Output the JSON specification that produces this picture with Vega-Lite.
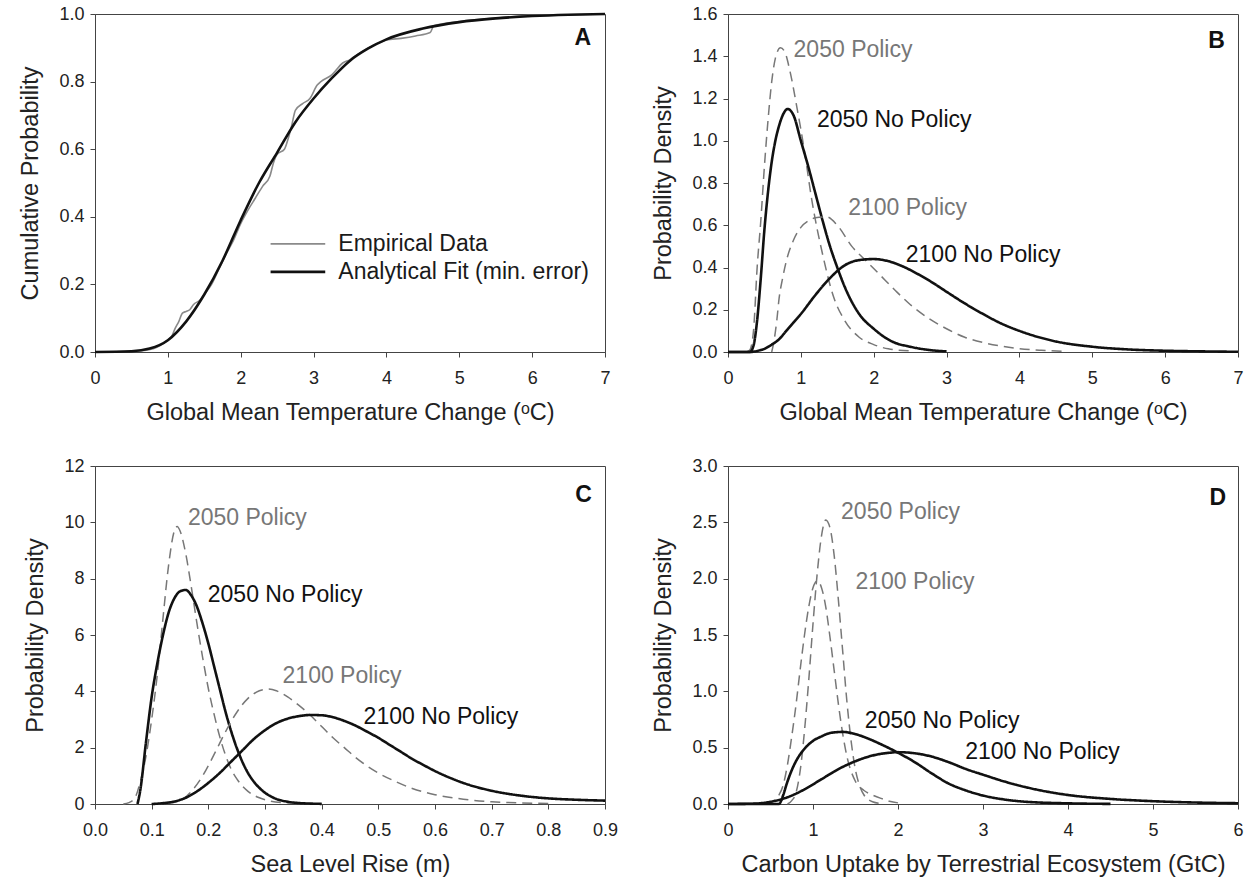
{
  "$schema": "https://vega.github.io/schema/vega-lite/v6.json",
  "background": "white",
  "padding": {"left": 18, "top": 4, "right": 5, "bottom": 5},
  "columns": 2,
  "bounds": "flush",
  "spacing": {"row": 114, "column": 123},
  "resolve": {"scale": {"x": "independent", "y": "independent", "color": "independent", "strokeDash": "independent", "strokeWidth": "independent"}},
  "config": {
    "font": "Liberation Sans",
    "view": {"stroke": "#444", "strokeWidth": 1},
    "axis": {"labelFont": "Liberation Sans", "titleFont": "Liberation Sans", "labelFontSize": 18, "titleFontSize": 23.5, "titleFontWeight": "normal", "labelColor": "#222", "titleColor": "#222", "domainColor": "#444", "tickColor": "#444", "grid": false, "tickSize": 5, "labelFlush": false, "labelOverlap": false},
    "axisX": {"labelPadding": 12, "titlePadding": 13},
    "axisY": {"labelPadding": 6, "titlePadding": 16}
  },
  "datasets": {
    "A": [
      {"series": "Empirical Data", "x": 0, "y": 0}, {"series": "Empirical Data", "x": 0.6, "y": 0.003}, {"series": "Empirical Data", "x": 0.8, "y": 0.01}, {"series": "Empirical Data", "x": 0.9, "y": 0.02}, {"series": "Empirical Data", "x": 1.0, "y": 0.035}, {"series": "Empirical Data", "x": 1.05, "y": 0.045}, {"series": "Empirical Data", "x": 1.1, "y": 0.07}, {"series": "Empirical Data", "x": 1.15, "y": 0.09}, {"series": "Empirical Data", "x": 1.2, "y": 0.115}, {"series": "Empirical Data", "x": 1.25, "y": 0.12}, {"series": "Empirical Data", "x": 1.3, "y": 0.125}, {"series": "Empirical Data", "x": 1.35, "y": 0.14}, {"series": "Empirical Data", "x": 1.45, "y": 0.155}, {"series": "Empirical Data", "x": 1.5, "y": 0.17}, {"series": "Empirical Data", "x": 1.6, "y": 0.2}, {"series": "Empirical Data", "x": 1.7, "y": 0.245}, {"series": "Empirical Data", "x": 1.8, "y": 0.29}, {"series": "Empirical Data", "x": 1.9, "y": 0.33}, {"series": "Empirical Data", "x": 2.0, "y": 0.38}, {"series": "Empirical Data", "x": 2.1, "y": 0.42}, {"series": "Empirical Data", "x": 2.2, "y": 0.455}, {"series": "Empirical Data", "x": 2.3, "y": 0.49}, {"series": "Empirical Data", "x": 2.4, "y": 0.52}, {"series": "Empirical Data", "x": 2.45, "y": 0.56}, {"series": "Empirical Data", "x": 2.5, "y": 0.585}, {"series": "Empirical Data", "x": 2.6, "y": 0.6}, {"series": "Empirical Data", "x": 2.65, "y": 0.63}, {"series": "Empirical Data", "x": 2.7, "y": 0.67}, {"series": "Empirical Data", "x": 2.75, "y": 0.715}, {"series": "Empirical Data", "x": 2.85, "y": 0.735}, {"series": "Empirical Data", "x": 2.95, "y": 0.75}, {"series": "Empirical Data", "x": 3.05, "y": 0.79}, {"series": "Empirical Data", "x": 3.1, "y": 0.8}, {"series": "Empirical Data", "x": 3.25, "y": 0.82}, {"series": "Empirical Data", "x": 3.4, "y": 0.855}, {"series": "Empirical Data", "x": 3.5, "y": 0.865}, {"series": "Empirical Data", "x": 3.6, "y": 0.88}, {"series": "Empirical Data", "x": 3.8, "y": 0.905}, {"series": "Empirical Data", "x": 4.0, "y": 0.923}, {"series": "Empirical Data", "x": 4.2, "y": 0.928}, {"series": "Empirical Data", "x": 4.4, "y": 0.935}, {"series": "Empirical Data", "x": 4.6, "y": 0.945}, {"series": "Empirical Data", "x": 4.65, "y": 0.965}, {"series": "Empirical Data", "x": 5.0, "y": 0.978}, {"series": "Empirical Data", "x": 5.5, "y": 0.988}, {"series": "Empirical Data", "x": 6.0, "y": 0.996}, {"series": "Empirical Data", "x": 6.5, "y": 0.998}, {"series": "Empirical Data", "x": 7.0, "y": 1.0},
      {"series": "Analytical Fit (min. error)", "x": 0, "y": 0}, {"series": "Analytical Fit (min. error)", "x": 0.5, "y": 0.002}, {"series": "Analytical Fit (min. error)", "x": 0.75, "y": 0.01}, {"series": "Analytical Fit (min. error)", "x": 1.0, "y": 0.035}, {"series": "Analytical Fit (min. error)", "x": 1.25, "y": 0.09}, {"series": "Analytical Fit (min. error)", "x": 1.5, "y": 0.17}, {"series": "Analytical Fit (min. error)", "x": 1.75, "y": 0.27}, {"series": "Analytical Fit (min. error)", "x": 2.0, "y": 0.39}, {"series": "Analytical Fit (min. error)", "x": 2.25, "y": 0.5}, {"series": "Analytical Fit (min. error)", "x": 2.5, "y": 0.59}, {"series": "Analytical Fit (min. error)", "x": 2.75, "y": 0.68}, {"series": "Analytical Fit (min. error)", "x": 3.0, "y": 0.75}, {"series": "Analytical Fit (min. error)", "x": 3.25, "y": 0.81}, {"series": "Analytical Fit (min. error)", "x": 3.5, "y": 0.862}, {"series": "Analytical Fit (min. error)", "x": 3.75, "y": 0.898}, {"series": "Analytical Fit (min. error)", "x": 4.0, "y": 0.925}, {"series": "Analytical Fit (min. error)", "x": 4.5, "y": 0.957}, {"series": "Analytical Fit (min. error)", "x": 5.0, "y": 0.976}, {"series": "Analytical Fit (min. error)", "x": 5.5, "y": 0.987}, {"series": "Analytical Fit (min. error)", "x": 6.0, "y": 0.994}, {"series": "Analytical Fit (min. error)", "x": 6.5, "y": 0.998}, {"series": "Analytical Fit (min. error)", "x": 7.0, "y": 1.0}
    ],
    "Aleg": [
      {"series": "Empirical Data", "x1": 2.41, "x2": 3.16, "xt": 3.34, "y": 0.32},
      {"series": "Analytical Fit (min. error)", "x1": 2.41, "x2": 3.16, "xt": 3.34, "y": 0.237}
    ],
    "B": [
      {"series": "2050 Policy", "x": 0.25, "y": 0}, {"series": "2050 Policy", "x": 0.3, "y": 0.01}, {"series": "2050 Policy", "x": 0.35, "y": 0.1}, {"series": "2050 Policy", "x": 0.4, "y": 0.4}, {"series": "2050 Policy", "x": 0.45, "y": 0.62}, {"series": "2050 Policy", "x": 0.5, "y": 0.88}, {"series": "2050 Policy", "x": 0.55, "y": 1.1}, {"series": "2050 Policy", "x": 0.6, "y": 1.28}, {"series": "2050 Policy", "x": 0.65, "y": 1.39}, {"series": "2050 Policy", "x": 0.72, "y": 1.44}, {"series": "2050 Policy", "x": 0.78, "y": 1.42}, {"series": "2050 Policy", "x": 0.85, "y": 1.33}, {"series": "2050 Policy", "x": 0.95, "y": 1.15}, {"series": "2050 Policy", "x": 1.05, "y": 0.95}, {"series": "2050 Policy", "x": 1.15, "y": 0.72}, {"series": "2050 Policy", "x": 1.3, "y": 0.46}, {"series": "2050 Policy", "x": 1.45, "y": 0.26}, {"series": "2050 Policy", "x": 1.6, "y": 0.15}, {"series": "2050 Policy", "x": 1.8, "y": 0.07}, {"series": "2050 Policy", "x": 2.0, "y": 0.035}, {"series": "2050 Policy", "x": 2.2, "y": 0.015}, {"series": "2050 Policy", "x": 2.5, "y": 0.005},
      {"series": "2050 No Policy", "x": 0, "y": 0}, {"series": "2050 No Policy", "x": 0.3, "y": 0}, {"series": "2050 No Policy", "x": 0.35, "y": 0.03}, {"series": "2050 No Policy", "x": 0.4, "y": 0.15}, {"series": "2050 No Policy", "x": 0.45, "y": 0.35}, {"series": "2050 No Policy", "x": 0.5, "y": 0.58}, {"series": "2050 No Policy", "x": 0.55, "y": 0.76}, {"series": "2050 No Policy", "x": 0.6, "y": 0.9}, {"series": "2050 No Policy", "x": 0.65, "y": 1.0}, {"series": "2050 No Policy", "x": 0.7, "y": 1.07}, {"series": "2050 No Policy", "x": 0.75, "y": 1.12}, {"series": "2050 No Policy", "x": 0.82, "y": 1.15}, {"series": "2050 No Policy", "x": 0.9, "y": 1.12}, {"series": "2050 No Policy", "x": 1.0, "y": 1.0}, {"series": "2050 No Policy", "x": 1.1, "y": 0.88}, {"series": "2050 No Policy", "x": 1.2, "y": 0.75}, {"series": "2050 No Policy", "x": 1.3, "y": 0.62}, {"series": "2050 No Policy", "x": 1.4, "y": 0.5}, {"series": "2050 No Policy", "x": 1.5, "y": 0.4}, {"series": "2050 No Policy", "x": 1.6, "y": 0.31}, {"series": "2050 No Policy", "x": 1.8, "y": 0.18}, {"series": "2050 No Policy", "x": 2.0, "y": 0.11}, {"series": "2050 No Policy", "x": 2.25, "y": 0.05}, {"series": "2050 No Policy", "x": 2.5, "y": 0.025}, {"series": "2050 No Policy", "x": 2.75, "y": 0.01}, {"series": "2050 No Policy", "x": 3.0, "y": 0.003},
      {"series": "2100 Policy", "x": 0.6, "y": 0}, {"series": "2100 Policy", "x": 0.63, "y": 0.05}, {"series": "2100 Policy", "x": 0.67, "y": 0.15}, {"series": "2100 Policy", "x": 0.7, "y": 0.25}, {"series": "2100 Policy", "x": 0.75, "y": 0.35}, {"series": "2100 Policy", "x": 0.8, "y": 0.43}, {"series": "2100 Policy", "x": 0.9, "y": 0.53}, {"series": "2100 Policy", "x": 1.0, "y": 0.59}, {"series": "2100 Policy", "x": 1.1, "y": 0.62}, {"series": "2100 Policy", "x": 1.2, "y": 0.635}, {"series": "2100 Policy", "x": 1.35, "y": 0.64}, {"series": "2100 Policy", "x": 1.5, "y": 0.6}, {"series": "2100 Policy", "x": 1.7, "y": 0.5}, {"series": "2100 Policy", "x": 1.9, "y": 0.43}, {"series": "2100 Policy", "x": 2.1, "y": 0.36}, {"series": "2100 Policy", "x": 2.3, "y": 0.29}, {"series": "2100 Policy", "x": 2.5, "y": 0.225}, {"series": "2100 Policy", "x": 2.75, "y": 0.16}, {"series": "2100 Policy", "x": 3.0, "y": 0.11}, {"series": "2100 Policy", "x": 3.25, "y": 0.07}, {"series": "2100 Policy", "x": 3.5, "y": 0.045}, {"series": "2100 Policy", "x": 3.75, "y": 0.028}, {"series": "2100 Policy", "x": 4.0, "y": 0.016}, {"series": "2100 Policy", "x": 4.3, "y": 0.008}, {"series": "2100 Policy", "x": 4.6, "y": 0.003},
      {"series": "2100 No Policy", "x": 0, "y": 0}, {"series": "2100 No Policy", "x": 0.3, "y": 0}, {"series": "2100 No Policy", "x": 0.4, "y": 0.005}, {"series": "2100 No Policy", "x": 0.5, "y": 0.015}, {"series": "2100 No Policy", "x": 0.6, "y": 0.035}, {"series": "2100 No Policy", "x": 0.7, "y": 0.06}, {"series": "2100 No Policy", "x": 0.8, "y": 0.1}, {"series": "2100 No Policy", "x": 0.9, "y": 0.14}, {"series": "2100 No Policy", "x": 1.0, "y": 0.18}, {"series": "2100 No Policy", "x": 1.2, "y": 0.27}, {"series": "2100 No Policy", "x": 1.4, "y": 0.35}, {"series": "2100 No Policy", "x": 1.6, "y": 0.41}, {"series": "2100 No Policy", "x": 1.8, "y": 0.435}, {"series": "2100 No Policy", "x": 2.0, "y": 0.44}, {"series": "2100 No Policy", "x": 2.2, "y": 0.43}, {"series": "2100 No Policy", "x": 2.4, "y": 0.405}, {"series": "2100 No Policy", "x": 2.6, "y": 0.37}, {"series": "2100 No Policy", "x": 2.8, "y": 0.33}, {"series": "2100 No Policy", "x": 3.0, "y": 0.285}, {"series": "2100 No Policy", "x": 3.25, "y": 0.23}, {"series": "2100 No Policy", "x": 3.5, "y": 0.18}, {"series": "2100 No Policy", "x": 3.75, "y": 0.135}, {"series": "2100 No Policy", "x": 4.0, "y": 0.1}, {"series": "2100 No Policy", "x": 4.5, "y": 0.05}, {"series": "2100 No Policy", "x": 5.0, "y": 0.025}, {"series": "2100 No Policy", "x": 5.5, "y": 0.012}, {"series": "2100 No Policy", "x": 6.0, "y": 0.006}, {"series": "2100 No Policy", "x": 6.5, "y": 0.003}, {"series": "2100 No Policy", "x": 7.0, "y": 0.001}
    ],
    "Blab": [
      {"series": "2050 Policy", "x": 0.9, "y": 1.43},
      {"series": "2050 No Policy", "x": 1.22, "y": 1.1},
      {"series": "2100 Policy", "x": 1.65, "y": 0.68},
      {"series": "2100 No Policy", "x": 2.44, "y": 0.46}
    ],
    "C": [
      {"series": "2050 Policy", "x": 0.05, "y": 0}, {"series": "2050 Policy", "x": 0.06, "y": 0.05}, {"series": "2050 Policy", "x": 0.07, "y": 0.2}, {"series": "2050 Policy", "x": 0.08, "y": 0.8}, {"series": "2050 Policy", "x": 0.09, "y": 1.7}, {"series": "2050 Policy", "x": 0.1, "y": 3.0}, {"series": "2050 Policy", "x": 0.11, "y": 4.6}, {"series": "2050 Policy", "x": 0.12, "y": 6.6}, {"series": "2050 Policy", "x": 0.13, "y": 8.5}, {"series": "2050 Policy", "x": 0.14, "y": 9.7}, {"series": "2050 Policy", "x": 0.145, "y": 9.85}, {"series": "2050 Policy", "x": 0.15, "y": 9.7}, {"series": "2050 Policy", "x": 0.16, "y": 8.9}, {"series": "2050 Policy", "x": 0.17, "y": 7.7}, {"series": "2050 Policy", "x": 0.18, "y": 6.4}, {"series": "2050 Policy", "x": 0.19, "y": 5.2}, {"series": "2050 Policy", "x": 0.2, "y": 4.1}, {"series": "2050 Policy", "x": 0.21, "y": 3.2}, {"series": "2050 Policy", "x": 0.22, "y": 2.4}, {"series": "2050 Policy", "x": 0.23, "y": 1.75}, {"series": "2050 Policy", "x": 0.24, "y": 1.25}, {"series": "2050 Policy", "x": 0.25, "y": 0.9}, {"series": "2050 Policy", "x": 0.27, "y": 0.45}, {"series": "2050 Policy", "x": 0.29, "y": 0.22}, {"series": "2050 Policy", "x": 0.31, "y": 0.1}, {"series": "2050 Policy", "x": 0.34, "y": 0.04}, {"series": "2050 Policy", "x": 0.37, "y": 0.015}, {"series": "2050 Policy", "x": 0.4, "y": 0.005},
      {"series": "2050 No Policy", "x": 0.075, "y": 0}, {"series": "2050 No Policy", "x": 0.08, "y": 0.5}, {"series": "2050 No Policy", "x": 0.09, "y": 2.2}, {"series": "2050 No Policy", "x": 0.1, "y": 3.8}, {"series": "2050 No Policy", "x": 0.11, "y": 5.0}, {"series": "2050 No Policy", "x": 0.12, "y": 6.0}, {"series": "2050 No Policy", "x": 0.13, "y": 6.8}, {"series": "2050 No Policy", "x": 0.14, "y": 7.3}, {"series": "2050 No Policy", "x": 0.15, "y": 7.55}, {"series": "2050 No Policy", "x": 0.16, "y": 7.6}, {"series": "2050 No Policy", "x": 0.17, "y": 7.4}, {"series": "2050 No Policy", "x": 0.18, "y": 7.0}, {"series": "2050 No Policy", "x": 0.19, "y": 6.4}, {"series": "2050 No Policy", "x": 0.2, "y": 5.7}, {"series": "2050 No Policy", "x": 0.21, "y": 4.9}, {"series": "2050 No Policy", "x": 0.22, "y": 4.1}, {"series": "2050 No Policy", "x": 0.23, "y": 3.3}, {"series": "2050 No Policy", "x": 0.24, "y": 2.6}, {"series": "2050 No Policy", "x": 0.25, "y": 2.0}, {"series": "2050 No Policy", "x": 0.26, "y": 1.5}, {"series": "2050 No Policy", "x": 0.27, "y": 1.1}, {"series": "2050 No Policy", "x": 0.28, "y": 0.8}, {"series": "2050 No Policy", "x": 0.3, "y": 0.4}, {"series": "2050 No Policy", "x": 0.32, "y": 0.18}, {"series": "2050 No Policy", "x": 0.34, "y": 0.08}, {"series": "2050 No Policy", "x": 0.36, "y": 0.035}, {"series": "2050 No Policy", "x": 0.4, "y": 0.005},
      {"series": "2100 Policy", "x": 0.1, "y": 0}, {"series": "2100 Policy", "x": 0.13, "y": 0.03}, {"series": "2100 Policy", "x": 0.15, "y": 0.12}, {"series": "2100 Policy", "x": 0.17, "y": 0.45}, {"series": "2100 Policy", "x": 0.19, "y": 1.0}, {"series": "2100 Policy", "x": 0.21, "y": 1.75}, {"series": "2100 Policy", "x": 0.23, "y": 2.55}, {"series": "2100 Policy", "x": 0.25, "y": 3.25}, {"series": "2100 Policy", "x": 0.27, "y": 3.75}, {"series": "2100 Policy", "x": 0.29, "y": 4.02}, {"series": "2100 Policy", "x": 0.305, "y": 4.08}, {"series": "2100 Policy", "x": 0.32, "y": 4.02}, {"series": "2100 Policy", "x": 0.34, "y": 3.8}, {"series": "2100 Policy", "x": 0.36, "y": 3.5}, {"series": "2100 Policy", "x": 0.38, "y": 3.15}, {"series": "2100 Policy", "x": 0.4, "y": 2.75}, {"series": "2100 Policy", "x": 0.42, "y": 2.35}, {"series": "2100 Policy", "x": 0.44, "y": 2.0}, {"series": "2100 Policy", "x": 0.46, "y": 1.65}, {"series": "2100 Policy", "x": 0.48, "y": 1.35}, {"series": "2100 Policy", "x": 0.5, "y": 1.1}, {"series": "2100 Policy", "x": 0.53, "y": 0.8}, {"series": "2100 Policy", "x": 0.56, "y": 0.55}, {"series": "2100 Policy", "x": 0.6, "y": 0.33}, {"series": "2100 Policy", "x": 0.65, "y": 0.17}, {"series": "2100 Policy", "x": 0.7, "y": 0.08}, {"series": "2100 Policy", "x": 0.75, "y": 0.04}, {"series": "2100 Policy", "x": 0.8, "y": 0.02},
      {"series": "2100 No Policy", "x": 0.1, "y": 0}, {"series": "2100 No Policy", "x": 0.12, "y": 0.03}, {"series": "2100 No Policy", "x": 0.14, "y": 0.09}, {"series": "2100 No Policy", "x": 0.16, "y": 0.22}, {"series": "2100 No Policy", "x": 0.18, "y": 0.45}, {"series": "2100 No Policy", "x": 0.2, "y": 0.75}, {"series": "2100 No Policy", "x": 0.22, "y": 1.1}, {"series": "2100 No Policy", "x": 0.24, "y": 1.5}, {"series": "2100 No Policy", "x": 0.26, "y": 1.9}, {"series": "2100 No Policy", "x": 0.28, "y": 2.3}, {"series": "2100 No Policy", "x": 0.3, "y": 2.62}, {"series": "2100 No Policy", "x": 0.32, "y": 2.87}, {"series": "2100 No Policy", "x": 0.34, "y": 3.03}, {"series": "2100 No Policy", "x": 0.36, "y": 3.12}, {"series": "2100 No Policy", "x": 0.38, "y": 3.16}, {"series": "2100 No Policy", "x": 0.4, "y": 3.15}, {"series": "2100 No Policy", "x": 0.42, "y": 3.08}, {"series": "2100 No Policy", "x": 0.44, "y": 2.95}, {"series": "2100 No Policy", "x": 0.46, "y": 2.78}, {"series": "2100 No Policy", "x": 0.48, "y": 2.57}, {"series": "2100 No Policy", "x": 0.5, "y": 2.35}, {"series": "2100 No Policy", "x": 0.52, "y": 2.1}, {"series": "2100 No Policy", "x": 0.54, "y": 1.85}, {"series": "2100 No Policy", "x": 0.56, "y": 1.6}, {"series": "2100 No Policy", "x": 0.58, "y": 1.38}, {"series": "2100 No Policy", "x": 0.6, "y": 1.17}, {"series": "2100 No Policy", "x": 0.63, "y": 0.9}, {"series": "2100 No Policy", "x": 0.66, "y": 0.68}, {"series": "2100 No Policy", "x": 0.7, "y": 0.47}, {"series": "2100 No Policy", "x": 0.75, "y": 0.3}, {"series": "2100 No Policy", "x": 0.8, "y": 0.2}, {"series": "2100 No Policy", "x": 0.85, "y": 0.15}, {"series": "2100 No Policy", "x": 0.9, "y": 0.12}
    ],
    "Clab": [
      {"series": "2050 Policy", "x": 0.164, "y": 10.14},
      {"series": "2050 No Policy", "x": 0.199, "y": 7.42},
      {"series": "2100 Policy", "x": 0.331, "y": 4.55},
      {"series": "2100 No Policy", "x": 0.474, "y": 3.1}
    ],
    "D": [
      {"series": "2050 Policy", "x": 0.7, "y": 0}, {"series": "2050 Policy", "x": 0.75, "y": 0.03}, {"series": "2050 Policy", "x": 0.8, "y": 0.1}, {"series": "2050 Policy", "x": 0.85, "y": 0.3}, {"series": "2050 Policy", "x": 0.9, "y": 0.65}, {"series": "2050 Policy", "x": 0.95, "y": 1.1}, {"series": "2050 Policy", "x": 1.0, "y": 1.6}, {"series": "2050 Policy", "x": 1.05, "y": 2.05}, {"series": "2050 Policy", "x": 1.1, "y": 2.38}, {"series": "2050 Policy", "x": 1.15, "y": 2.52}, {"series": "2050 Policy", "x": 1.2, "y": 2.45}, {"series": "2050 Policy", "x": 1.25, "y": 2.2}, {"series": "2050 Policy", "x": 1.3, "y": 1.8}, {"series": "2050 Policy", "x": 1.35, "y": 1.35}, {"series": "2050 Policy", "x": 1.4, "y": 0.9}, {"series": "2050 Policy", "x": 1.45, "y": 0.55}, {"series": "2050 Policy", "x": 1.5, "y": 0.3}, {"series": "2050 Policy", "x": 1.55, "y": 0.16}, {"series": "2050 Policy", "x": 1.6, "y": 0.08}, {"series": "2050 Policy", "x": 1.7, "y": 0.02}, {"series": "2050 Policy", "x": 1.8, "y": 0.005},
      {"series": "2100 Policy", "x": 0.45, "y": 0}, {"series": "2100 Policy", "x": 0.55, "y": 0.03}, {"series": "2100 Policy", "x": 0.6, "y": 0.08}, {"series": "2100 Policy", "x": 0.65, "y": 0.17}, {"series": "2100 Policy", "x": 0.7, "y": 0.35}, {"series": "2100 Policy", "x": 0.75, "y": 0.6}, {"series": "2100 Policy", "x": 0.8, "y": 0.88}, {"series": "2100 Policy", "x": 0.85, "y": 1.2}, {"series": "2100 Policy", "x": 0.9, "y": 1.5}, {"series": "2100 Policy", "x": 0.95, "y": 1.75}, {"series": "2100 Policy", "x": 1.0, "y": 1.92}, {"series": "2100 Policy", "x": 1.05, "y": 1.98}, {"series": "2100 Policy", "x": 1.1, "y": 1.92}, {"series": "2100 Policy", "x": 1.15, "y": 1.75}, {"series": "2100 Policy", "x": 1.2, "y": 1.48}, {"series": "2100 Policy", "x": 1.25, "y": 1.18}, {"series": "2100 Policy", "x": 1.3, "y": 0.88}, {"series": "2100 Policy", "x": 1.35, "y": 0.62}, {"series": "2100 Policy", "x": 1.4, "y": 0.42}, {"series": "2100 Policy", "x": 1.5, "y": 0.2}, {"series": "2100 Policy", "x": 1.6, "y": 0.12}, {"series": "2100 Policy", "x": 1.7, "y": 0.08}, {"series": "2100 Policy", "x": 1.8, "y": 0.05}, {"series": "2100 Policy", "x": 1.9, "y": 0.025}, {"series": "2100 Policy", "x": 2.0, "y": 0.01},
      {"series": "2050 No Policy", "x": 0, "y": 0}, {"series": "2050 No Policy", "x": 0.6, "y": 0}, {"series": "2050 No Policy", "x": 0.62, "y": 0.02}, {"series": "2050 No Policy", "x": 0.65, "y": 0.08}, {"series": "2050 No Policy", "x": 0.7, "y": 0.2}, {"series": "2050 No Policy", "x": 0.75, "y": 0.3}, {"series": "2050 No Policy", "x": 0.8, "y": 0.38}, {"series": "2050 No Policy", "x": 0.9, "y": 0.49}, {"series": "2050 No Policy", "x": 1.0, "y": 0.56}, {"series": "2050 No Policy", "x": 1.1, "y": 0.6}, {"series": "2050 No Policy", "x": 1.2, "y": 0.63}, {"series": "2050 No Policy", "x": 1.35, "y": 0.64}, {"series": "2050 No Policy", "x": 1.5, "y": 0.62}, {"series": "2050 No Policy", "x": 1.65, "y": 0.58}, {"series": "2050 No Policy", "x": 1.8, "y": 0.53}, {"series": "2050 No Policy", "x": 2.0, "y": 0.455}, {"series": "2050 No Policy", "x": 2.2, "y": 0.37}, {"series": "2050 No Policy", "x": 2.4, "y": 0.27}, {"series": "2050 No Policy", "x": 2.6, "y": 0.18}, {"series": "2050 No Policy", "x": 2.8, "y": 0.12}, {"series": "2050 No Policy", "x": 3.0, "y": 0.075}, {"series": "2050 No Policy", "x": 3.25, "y": 0.04}, {"series": "2050 No Policy", "x": 3.5, "y": 0.02}, {"series": "2050 No Policy", "x": 4.0, "y": 0.006}, {"series": "2050 No Policy", "x": 4.5, "y": 0.001},
      {"series": "2100 No Policy", "x": 0, "y": 0}, {"series": "2100 No Policy", "x": 0.3, "y": 0.003}, {"series": "2100 No Policy", "x": 0.5, "y": 0.02}, {"series": "2100 No Policy", "x": 0.7, "y": 0.06}, {"series": "2100 No Policy", "x": 0.9, "y": 0.13}, {"series": "2100 No Policy", "x": 1.1, "y": 0.22}, {"series": "2100 No Policy", "x": 1.3, "y": 0.31}, {"series": "2100 No Policy", "x": 1.5, "y": 0.38}, {"series": "2100 No Policy", "x": 1.7, "y": 0.43}, {"series": "2100 No Policy", "x": 1.9, "y": 0.455}, {"series": "2100 No Policy", "x": 2.0, "y": 0.46}, {"series": "2100 No Policy", "x": 2.2, "y": 0.45}, {"series": "2100 No Policy", "x": 2.4, "y": 0.42}, {"series": "2100 No Policy", "x": 2.6, "y": 0.37}, {"series": "2100 No Policy", "x": 2.8, "y": 0.31}, {"series": "2100 No Policy", "x": 3.0, "y": 0.26}, {"series": "2100 No Policy", "x": 3.25, "y": 0.2}, {"series": "2100 No Policy", "x": 3.5, "y": 0.15}, {"series": "2100 No Policy", "x": 3.75, "y": 0.11}, {"series": "2100 No Policy", "x": 4.0, "y": 0.08}, {"series": "2100 No Policy", "x": 4.5, "y": 0.045}, {"series": "2100 No Policy", "x": 5.0, "y": 0.025}, {"series": "2100 No Policy", "x": 5.5, "y": 0.013}, {"series": "2100 No Policy", "x": 6.0, "y": 0.007}
    ],
    "Dlab": [
      {"series": "2050 Policy", "x": 1.33, "y": 2.59},
      {"series": "2100 Policy", "x": 1.5, "y": 1.97},
      {"series": "2050 No Policy", "x": 1.61, "y": 0.74},
      {"series": "2100 No Policy", "x": 2.79, "y": 0.46}
    ]
  },
  "concat": [
    {
      "width": 510, "height": 338,
      "layer": [
        {
          "data": {"name": "A"},
          "mark": {"type": "line", "interpolate": "monotone"},
          "encoding": {
            "x": {"field": "x", "type": "quantitative", "scale": {"domain": [0, 7], "nice": false}, "axis": {"title": "Global Mean Temperature Change  (ᵒC)", "values": [0, 1, 2, 3, 4, 5, 6, 7], "format": "d"}},
            "y": {"field": "y", "type": "quantitative", "scale": {"domain": [0, 1], "nice": false}, "axis": {"title": "Cumulative Probability", "values": [0, 0.2, 0.4, 0.6, 0.8, 1.0], "format": ".1f"}},
            "color": {"field": "series", "type": "nominal", "scale": {"domain": ["Empirical Data", "Analytical Fit (min. error)"], "range": ["#8a8a8a", "#111111"]}, "legend": null},
            "strokeWidth": {"field": "series", "type": "nominal", "scale": {"type": "ordinal", "domain": ["Empirical Data", "Analytical Fit (min. error)"], "range": [1.6, 2.6]}, "legend": null}
          }
        },
        {
          "data": {"name": "Aleg"},
          "mark": {"type": "rule"},
          "encoding": {
            "x": {"field": "x1", "type": "quantitative"},
            "x2": {"field": "x2"},
            "y": {"field": "y", "type": "quantitative"},
            "color": {"field": "series", "type": "nominal", "scale": {"domain": ["Empirical Data", "Analytical Fit (min. error)"], "range": ["#8a8a8a", "#111111"]}, "legend": null},
            "strokeWidth": {"field": "series", "type": "nominal", "scale": {"type": "ordinal", "domain": ["Empirical Data", "Analytical Fit (min. error)"], "range": [1.6, 2.6]}, "legend": null}
          }
        },
        {
          "data": {"name": "Aleg"},
          "mark": {"type": "text", "align": "left", "baseline": "middle", "fontSize": 23, "font": "Liberation Sans", "color": "#1a1a1a"},
          "encoding": {
            "x": {"field": "xt", "type": "quantitative"},
            "y": {"field": "y", "type": "quantitative"},
            "text": {"field": "series"}
          }
        },
        {
          "data": {"values": [{"panel": "A", "x": 6.81, "y": 0.93}]},
          "mark": {"type": "text", "align": "right", "baseline": "middle", "fontSize": 23, "fontWeight": "bold", "font": "Liberation Sans", "color": "#111"},
          "encoding": {"x": {"field": "x", "type": "quantitative"}, "y": {"field": "y", "type": "quantitative"}, "text": {"field": "panel"}}
        }
      ]
    },
    {
      "width": 510, "height": 338,
      "layer": [
        {
          "data": {"name": "B"},
          "mark": {"type": "line", "interpolate": "monotone"},
          "encoding": {
            "x": {"field": "x", "type": "quantitative", "scale": {"domain": [0, 7], "nice": false}, "axis": {"title": "Global Mean Temperature Change  (ᵒC)", "values": [0, 1, 2, 3, 4, 5, 6, 7], "format": "d"}},
            "y": {"field": "y", "type": "quantitative", "scale": {"domain": [0, 1.6], "nice": false}, "axis": {"title": "Probability Density", "values": [0, 0.2, 0.4, 0.6, 0.8, 1.0, 1.2, 1.4, 1.6], "format": ".1f"}},
            "color": {"field": "series", "type": "nominal", "scale": {"domain": ["2050 Policy", "2050 No Policy", "2100 Policy", "2100 No Policy"], "range": ["#777777", "#111111", "#777777", "#111111"]}, "legend": null},
            "strokeDash": {"field": "series", "type": "nominal", "scale": {"domain": ["2050 Policy", "2050 No Policy", "2100 Policy", "2100 No Policy"], "range": [[10, 6], [1, 0], [10, 6], [1, 0]]}, "legend": null},
            "strokeWidth": {"field": "series", "type": "nominal", "scale": {"type": "ordinal", "domain": ["2050 Policy", "2050 No Policy", "2100 Policy", "2100 No Policy"], "range": [1.5, 2.6, 1.5, 2.6]}, "legend": null}
          }
        },
        {
          "data": {"name": "Blab"},
          "mark": {"type": "text", "align": "left", "baseline": "middle", "fontSize": 23, "font": "Liberation Sans"},
          "encoding": {
            "x": {"field": "x", "type": "quantitative"},
            "y": {"field": "y", "type": "quantitative"},
            "text": {"field": "series"},
            "color": {"field": "series", "type": "nominal", "scale": {"domain": ["2050 Policy", "2050 No Policy", "2100 Policy", "2100 No Policy"], "range": ["#777777", "#111111", "#777777", "#111111"]}, "legend": null}
          }
        },
        {
          "data": {"values": [{"panel": "B", "x": 6.82, "y": 1.47}]},
          "mark": {"type": "text", "align": "right", "baseline": "middle", "fontSize": 23, "fontWeight": "bold", "font": "Liberation Sans", "color": "#111"},
          "encoding": {"x": {"field": "x", "type": "quantitative"}, "y": {"field": "y", "type": "quantitative"}, "text": {"field": "panel"}}
        }
      ]
    },
    {
      "width": 510, "height": 338,
      "layer": [
        {
          "data": {"name": "C"},
          "mark": {"type": "line", "interpolate": "monotone"},
          "encoding": {
            "x": {"field": "x", "type": "quantitative", "scale": {"domain": [0, 0.9], "nice": false}, "axis": {"title": "Sea Level Rise (m)", "values": [0, 0.1, 0.2, 0.3, 0.4, 0.5, 0.6, 0.7, 0.8, 0.9], "format": ".1f"}},
            "y": {"field": "y", "type": "quantitative", "scale": {"domain": [0, 12], "nice": false}, "axis": {"title": "Probability Density", "values": [0, 2, 4, 6, 8, 10, 12], "format": "d"}},
            "color": {"field": "series", "type": "nominal", "scale": {"domain": ["2050 Policy", "2050 No Policy", "2100 Policy", "2100 No Policy"], "range": ["#777777", "#111111", "#777777", "#111111"]}, "legend": null},
            "strokeDash": {"field": "series", "type": "nominal", "scale": {"domain": ["2050 Policy", "2050 No Policy", "2100 Policy", "2100 No Policy"], "range": [[10, 6], [1, 0], [10, 6], [1, 0]]}, "legend": null},
            "strokeWidth": {"field": "series", "type": "nominal", "scale": {"type": "ordinal", "domain": ["2050 Policy", "2050 No Policy", "2100 Policy", "2100 No Policy"], "range": [1.5, 2.6, 1.5, 2.6]}, "legend": null}
          }
        },
        {
          "data": {"name": "Clab"},
          "mark": {"type": "text", "align": "left", "baseline": "middle", "fontSize": 23, "font": "Liberation Sans"},
          "encoding": {
            "x": {"field": "x", "type": "quantitative"},
            "y": {"field": "y", "type": "quantitative"},
            "text": {"field": "series"},
            "color": {"field": "series", "type": "nominal", "scale": {"domain": ["2050 Policy", "2050 No Policy", "2100 Policy", "2100 No Policy"], "range": ["#777777", "#111111", "#777777", "#111111"]}, "legend": null}
          }
        },
        {
          "data": {"values": [{"panel": "C", "x": 0.877, "y": 10.97}]},
          "mark": {"type": "text", "align": "right", "baseline": "middle", "fontSize": 23, "fontWeight": "bold", "font": "Liberation Sans", "color": "#111"},
          "encoding": {"x": {"field": "x", "type": "quantitative"}, "y": {"field": "y", "type": "quantitative"}, "text": {"field": "panel"}}
        }
      ]
    },
    {
      "width": 510, "height": 338,
      "layer": [
        {
          "data": {"name": "D"},
          "mark": {"type": "line", "interpolate": "monotone"},
          "encoding": {
            "x": {"field": "x", "type": "quantitative", "scale": {"domain": [0, 6], "nice": false}, "axis": {"title": "Carbon Uptake by Terrestrial Ecosystem (GtC)", "values": [0, 1, 2, 3, 4, 5, 6], "format": "d"}},
            "y": {"field": "y", "type": "quantitative", "scale": {"domain": [0, 3], "nice": false}, "axis": {"title": "Probability Density", "values": [0, 0.5, 1.0, 1.5, 2.0, 2.5, 3.0], "format": ".1f"}},
            "color": {"field": "series", "type": "nominal", "scale": {"domain": ["2050 Policy", "2050 No Policy", "2100 Policy", "2100 No Policy"], "range": ["#777777", "#111111", "#777777", "#111111"]}, "legend": null},
            "strokeDash": {"field": "series", "type": "nominal", "scale": {"domain": ["2050 Policy", "2050 No Policy", "2100 Policy", "2100 No Policy"], "range": [[10, 6], [1, 0], [10, 6], [1, 0]]}, "legend": null},
            "strokeWidth": {"field": "series", "type": "nominal", "scale": {"type": "ordinal", "domain": ["2050 Policy", "2050 No Policy", "2100 Policy", "2100 No Policy"], "range": [1.5, 2.6, 1.5, 2.6]}, "legend": null}
          }
        },
        {
          "data": {"name": "Dlab"},
          "mark": {"type": "text", "align": "left", "baseline": "middle", "fontSize": 23, "font": "Liberation Sans"},
          "encoding": {
            "x": {"field": "x", "type": "quantitative"},
            "y": {"field": "y", "type": "quantitative"},
            "text": {"field": "series"},
            "color": {"field": "series", "type": "nominal", "scale": {"domain": ["2050 Policy", "2050 No Policy", "2100 Policy", "2100 No Policy"], "range": ["#777777", "#111111", "#777777", "#111111"]}, "legend": null}
          }
        },
        {
          "data": {"values": [{"panel": "D", "x": 5.86, "y": 2.72}]},
          "mark": {"type": "text", "align": "right", "baseline": "middle", "fontSize": 23, "fontWeight": "bold", "font": "Liberation Sans", "color": "#111"},
          "encoding": {"x": {"field": "x", "type": "quantitative"}, "y": {"field": "y", "type": "quantitative"}, "text": {"field": "panel"}}
        }
      ]
    }
  ]
}
